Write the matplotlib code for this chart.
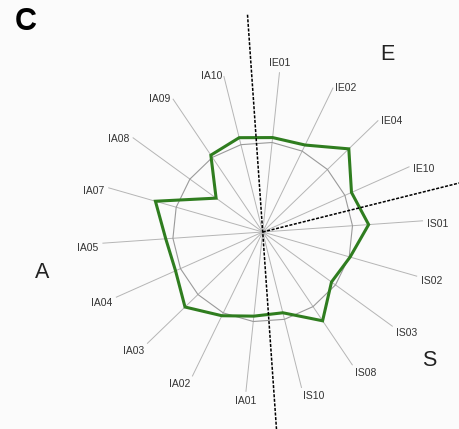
import numpy as np
import matplotlib.pyplot as plt
from matplotlib.patches import Polygon

plt.rcParams['font.family'] = ['Liberation Sans', 'DejaVu Sans']

# categories clockwise, starting from the top
labels = ['IE01', 'IE02', 'IE04', 'IE10', 'IS01', 'IS02', 'IS03', 'IS08', 'IS10',
          'IA01', 'IA02', 'IA03', 'IA04', 'IA05', 'IA07', 'IA08', 'IA09', 'IA10']
values = [1.055, 1.075, 1.33, 1.08, 1.18, 1.01, 0.945, 1.19, 0.925,
          0.94, 1.035, 1.20, 1.06, 1.08, 1.24, 0.64, 1.03, 1.08]
ring = 1.0
axis_max = 1.78
groups = ['E', 'S', 'A']

# geometry (pixels -> data units)
W, H = 459, 429
cx, cy, scale = 262.7, 232.0, 90.0
start = 6.0      # compass angle of the first spoke
n = len(labels)
ang = np.radians(start + 360.0 / n * np.arange(n))
sx, sy = np.sin(ang), np.cos(ang)

fig = plt.figure(figsize=(W / 100, H / 100), dpi=100)
fig.patch.set_facecolor('#fbfbfb')
ax = fig.add_axes([0, 0, 1, 1])
ax.set_facecolor('#fbfbfb')
ax.set_xlim(-cx / scale, (W - cx) / scale)
ax.set_ylim(-(H - cy) / scale, cy / scale)
ax.axis('off')

# spokes
for i in range(n):
    ax.plot([0, axis_max * sx[i]], [0, axis_max * sy[i]], color='#b5b5b5', lw=0.7, zorder=1)

# reference ring
ax.add_patch(Polygon(np.column_stack([ring * sx, ring * sy]), closed=True, fill=False,
                     edgecolor='#9a9a9a', lw=0.8, zorder=2))

# data line
v = np.array(values)
ax.add_patch(Polygon(np.column_stack([v * sx, v * sy]), closed=True, fill=False,
                     edgecolor='#2f7d1f', lw=2.2, joinstyle='miter', zorder=4))

# group separators
dash_r = 2.42
t = np.radians(356.0)
ax.plot([dash_r * np.sin(t), -dash_r * np.sin(t)], [dash_r * np.cos(t), -dash_r * np.cos(t)],
        color='black', lw=1.1, ls=(0, (2, 1)), zorder=5)
t = np.radians(76.0)
ax.plot([0, dash_r * np.sin(t)], [0, dash_r * np.cos(t)],
        color='black', lw=1.1, ls=(0, (2, 1)), zorder=5)

# category labels
lr = 165.0 / scale
for i, lab in enumerate(labels):
    x, y = lr * sx[i], lr * sy[i]
    if abs(sx[i]) < 0.2:
        ha = 'center'
        va = 'bottom' if sy[i] > 0 else 'top'
    else:
        ha = 'left' if sx[i] > 0 else 'right'
        va = 'center'
        y -= 4.0 / scale
    ax.text(x, y, lab, ha=ha, va=va, fontsize=7.5, color='#333333')

# group letters and panel letter
fig.text(387.5 / W, 1 - 54.5 / H, groups[0], fontsize=15.5, ha='center', va='center', color='#222222')
fig.text(429.3 / W, 1 - 360 / H, groups[1], fontsize=15.5, ha='center', va='center', color='#222222')
fig.text(41.7 / W, 1 - 273 / H, groups[2], fontsize=15.5, ha='center', va='center', color='#222222')
fig.text(26 / W, 1 - 22 / H, 'C', fontsize=22, fontweight='bold', ha='center', va='center')

plt.savefig('out.png', dpi=100, facecolor=fig.get_facecolor())
